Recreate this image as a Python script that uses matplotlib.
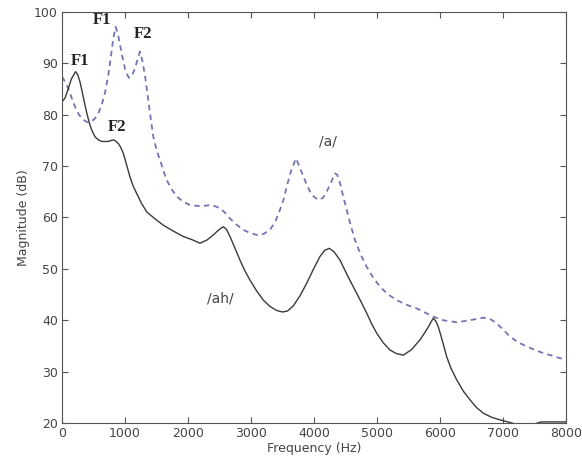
import matplotlib
matplotlib.use('Agg')
import matplotlib.pyplot as plt

# /ah/ spectrum (solid)
ah_freq = [0, 50, 100, 150, 217, 250, 286, 320, 365, 400, 444, 480, 524, 580, 630, 735,
           780, 815, 850, 894, 930, 974, 1020, 1079, 1130, 1185, 1260, 1344, 1480, 1608,
           1760, 1925, 2060, 2190, 2300, 2402, 2490, 2560, 2610, 2667, 2740, 2825, 2900,
           2984, 3090, 3196, 3300, 3407, 3500, 3580, 3672, 3780, 3884, 3990, 4095, 4170,
           4243, 4320, 4413, 4520, 4624, 4730, 4836, 4915, 4995, 5100, 5206, 5310, 5418,
           5550, 5683, 5760, 5815, 5860, 5894, 5935, 5974, 6040, 6106, 6180, 6265, 6370,
           6476, 6580, 6688, 6820, 6952, 7111, 7250, 7450, 7600, 8000]
ah_db = [82.5, 83.3, 85.1, 87.0, 88.4, 87.8, 86.4, 84.5, 81.9, 80.0, 78.0, 76.8, 75.7, 75.1, 74.8, 74.8,
         75.0, 75.1, 74.9, 74.4, 73.7, 72.5, 70.5, 67.9, 66.1, 64.7, 62.8, 61.1, 59.7, 58.5,
         57.4, 56.3, 55.7, 55.0, 55.6, 56.6, 57.6, 58.2, 57.7, 56.3, 54.2, 51.7, 49.7,
         47.8, 45.7, 43.9, 42.7, 41.9, 41.6, 41.8, 42.8, 44.8, 47.2, 49.9, 52.4, 53.6,
         54.0, 53.3, 51.7, 49.0, 46.5, 44.0, 41.4, 39.3, 37.5, 35.6, 34.2, 33.5, 33.2,
         34.3, 36.2, 37.6, 38.7, 39.7, 40.4, 39.8, 38.7, 35.9, 32.9, 30.5, 28.4, 26.2,
         24.5, 23.0, 21.9, 21.1, 20.6, 20.1, 19.6, 19.6, 20.2, 20.2]

# /a/ spectrum (dashed)
a_freq = [0, 50, 100, 150, 206, 260, 312, 365, 418, 470, 524, 580, 630, 685, 735, 775,
          815, 852, 885, 921, 960, 1000, 1035, 1063, 1110, 1159, 1200, 1238, 1275, 1317,
          1355, 1397, 1450, 1500, 1556, 1610, 1662, 1740, 1820, 1920, 2032, 2200, 2349,
          2430, 2508, 2590, 2667, 2770, 2878, 2980, 3090, 3200, 3302, 3390, 3460, 3520,
          3566, 3640, 3714, 3770, 3830, 3900, 3963, 4069, 4140, 4201, 4270, 4333, 4370,
          4413, 4460, 4519, 4580, 4651, 4740, 4836, 4940, 5048, 5180, 5312, 5470, 5630,
          5760, 5894, 6052, 6265, 6476, 6688, 6800, 6900, 7000, 7111, 7240, 7376, 7510,
          7640, 7780, 7905, 8000]
a_db = [87.4, 86.4, 85.1, 83.4, 81.6, 80.2, 79.3, 78.8, 78.5, 78.7, 79.3, 80.4, 81.9, 84.4, 87.7, 91.2,
        94.9, 97.1, 95.9, 93.6, 91.2, 89.0, 87.8, 87.2, 87.6, 89.0, 90.8, 92.3, 90.5, 87.7,
        84.2, 80.3, 75.7, 73.2, 71.2, 69.1, 67.3, 65.5, 64.1, 63.1, 62.4, 62.2, 62.4,
        62.2, 61.8, 60.9, 59.8, 58.6, 57.6, 57.0, 56.6, 56.8, 57.6, 59.3, 61.5, 63.6,
        66.0, 69.2, 71.5, 69.9, 68.0, 66.0, 64.4, 63.4, 63.8, 65.0, 66.8, 68.6, 68.3,
        66.7, 64.3, 61.5, 58.6, 55.6, 52.8, 50.4, 48.3, 46.5, 45.0, 43.9, 43.0, 42.3,
        41.5, 40.7, 40.0, 39.6, 40.0, 40.5, 40.2, 39.4, 38.2, 36.8, 35.7, 34.9, 34.2,
        33.6, 33.1, 32.6, 32.4]

xticks = [0, 1000, 2000, 3000, 4000, 5000, 6000, 7000, 8000]
yticks = [20, 30, 40, 50, 60, 70, 80, 90, 100]

fig = plt.figure(figsize=(5.82, 4.71), dpi=100)
ax = fig.add_axes([0.1065, 0.102, 0.866, 0.8725])

ax.plot(a_freq, a_db, '--', color='#7474b4', lw=1.3, dashes=(3, 2.4))
ax.plot(ah_freq, ah_db, '-', color='#3a3a3a', lw=1.0)

ax.set_xlim(0, 8000)
ax.set_ylim(20, 100)
ax.set_xticks(xticks)
ax.set_yticks(yticks)
ax.tick_params(direction='in', top=True, right=True, length=4, labelsize=9,
               colors='#555555', labelcolor='#444444', pad=3)
for s in ax.spines.values():
    s.set_color('#555555')

ax.set_xlabel('Frequency (Hz)', fontsize=9, color='#444444', labelpad=1)
ax.set_ylabel('Magnitude (dB)', fontsize=9, color='#444444', labelpad=3)

serif = dict(family='Liberation Serif', fontsize=12, fontweight='bold', color='#222222',
             ha='center', va='center')
ax.text(285, 90.5, 'F1', **serif)
ax.text(640, 98.5, 'F1', **serif)
ax.text(1290, 95.8, 'F2', **serif)
ax.text(880, 77.6, 'F2', **serif)

ax.text(4220, 74.8, '/a/', fontsize=10, color='#444444', ha='center', va='center')
ax.text(2520, 44.3, '/ah/', fontsize=10, color='#444444', ha='center', va='center')

fig.savefig('out.png', dpi=100)
